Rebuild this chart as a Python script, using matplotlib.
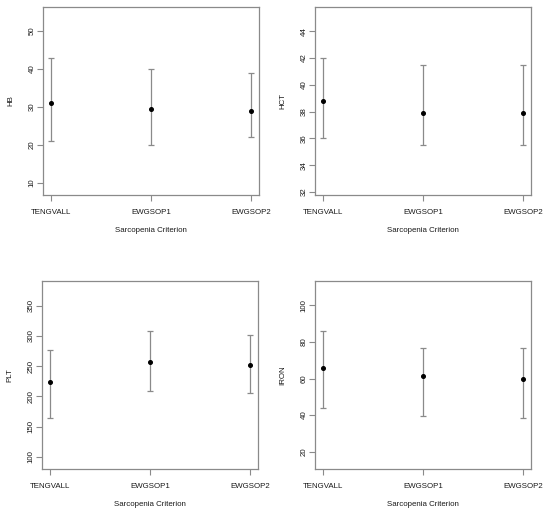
import matplotlib
matplotlib.use("Agg")
import matplotlib.pyplot as plt

categories = ["TENGVALL", "EWGSOP1", "EWGSOP2"]
x_label = "Sarcopenia Criterion"

hb_mean = [31.0, 29.5, 29.0]
hb_low = [21.0, 20.0, 22.0]
hb_high = [43.0, 40.0, 39.0]

hct_mean = [38.8, 37.9, 37.9]
hct_low = [36.0, 35.5, 35.5]
hct_high = [42.0, 41.5, 41.5]

plt_mean = [224.0, 257.0, 252.5]
plt_low = [164.0, 208.5, 205.5]
plt_high = [276.0, 308.0, 302.0]

iron_mean = [66.0, 61.5, 60.0]
iron_low = [44.0, 39.5, 38.2]
iron_high = [86.0, 76.8, 77.0]

panels = [
    ("HB", hb_mean, hb_low, hb_high, (6.8, 56.3), [10, 20, 30, 40, 50]),
    ("HCT", hct_mean, hct_low, hct_high, (31.78, 45.8), [32, 34, 36, 38, 40, 42, 44]),
    ("PLT", plt_mean, plt_low, plt_high, (80.2, 390.8), [100, 150, 200, 250, 300, 350]),
    ("IRON", iron_mean, iron_low, iron_high, (10.5, 113.4), [20, 40, 60, 80, 100]),
]

W, H = 550, 516
plt.rcParams['font.family'] = ['Liberation Sans', 'DejaVu Sans']
fig = plt.figure(figsize=(W / 100, H / 100), dpi=100)

boxes = [(43, 7), (315, 7), (42, 281), (315, 281)]
gray = "#8a8a8a"
txt = "#1a1a1a"

for (name, m, lo, hi, ylim, yt), (bx, by) in zip(panels, boxes):
    ax = fig.add_axes([bx / W, 1 - (by + 188) / H, 216 / W, 188 / H])
    xs = list(range(1, len(categories) + 1))
    yerr = [[mm - l for mm, l in zip(m, lo)], [h - mm for mm, h in zip(m, hi)]]
    ax.errorbar(xs, m, yerr=yerr, fmt="none", ecolor=gray, elinewidth=0.9,
                capsize=2.5, capthick=0.9)
    ax.plot(xs, m, "o", color="black", markersize=2.6, zorder=3)
    ax.set_xlim(0.92, 3.08)
    ax.set_ylim(*ylim)
    ax.set_xticks(xs)
    ax.set_xticklabels(categories, fontsize=5.7, color=txt)
    ax.set_yticks(yt)
    ax.set_yticklabels([str(v) for v in yt], fontsize=5.7, color=txt,
                       rotation=90, va="center")
    ax.tick_params(axis="both", colors=gray, labelcolor=txt, length=4, width=0.8)
    ax.tick_params(axis="x", pad=6)
    ax.tick_params(axis="y", pad=1.5)
    for s in ax.spines.values():
        s.set_color(gray)
        s.set_linewidth(0.9)
    ax.set_xlabel(x_label, fontsize=5.7, color=txt, labelpad=8)
    ax.set_ylabel(name, fontsize=5.7, color=txt, labelpad=10)

fig.savefig("out.png", dpi=100, facecolor="white")
